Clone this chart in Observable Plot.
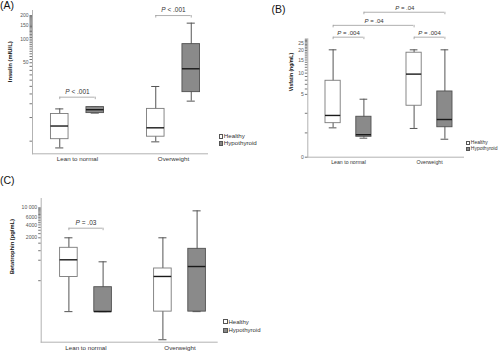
<!DOCTYPE html>
<html><head><meta charset="utf-8">
<script src="https://cdn.jsdelivr.net/npm/d3@7"></script>
<script src="https://cdn.jsdelivr.net/npm/@observablehq/plot@0.6"></script>
<style>
body{margin:0;background:#fff;font-family:"Liberation Sans",Arial,sans-serif;}
#page{position:relative;width:500px;height:353px;overflow:hidden;background:#fff;}
.panel{position:absolute;}
.tag{position:absolute;font-size:10.5px;line-height:10.5px;color:#111;}
.sw{position:absolute;box-sizing:border-box;border:0.8px solid #555;}
.lt{position:absolute;white-space:nowrap;color:#333;}
</style>
</head><body><div id="page"></div>
<script>
// ---------- categories ----------
const groups = ["Lean to normal", "Overweight"];
const seriesNames = ["Healthy", "Hypothyroid"];
const boxGroup  = ["Lean to normal", "Lean to normal", "Overweight", "Overweight"];
const boxSeries = ["Healthy", "Hypothyroid", "Healthy", "Hypothyroid"];

// ---------- (A) Insulin (mIU/L): box statistics ----------
const insulinMin = [4.1, 11.4, 4.9, 16.2];
const insulinQ1  = [5.3, 11.4, 5.7, 21.1];
const insulinMed = [7.8, 12.6, 7.4, 41.9];
const insulinQ3  = [11.1, 13.6, 12.9, 86.4];
const insulinMax = [12.9, 13.6, 24.9, 160];
const insulinTickValues = [50, 100, 150, 200];
const insulinTickText   = ["50", "100", "150", "200"];

// ---------- (B) Visfatin (ng/mL) ----------
const visfatinMin = [1.31, 0.72, 1.27, 0.67];
const visfatinQ1  = [1.64, 0.79, 3.34, 1.35];
const visfatinMed = [2.29, 0.9, 9.7, 1.93];
const visfatinQ3  = [7.85, 2.17, 18.7, 5.52];
const visfatinMax = [20.4, 4.23, 20.4, 20.4];
const visfatinTickValues = [0, 5, 10, 15, 20, 25];
const visfatinTickText   = ["0", "5", "10", "15", "20", "25"];

// ---------- (C) Betatrophin (pg/mL) ----------
const betatrophinMin = [38, 38, 8.4, 38];
const betatrophinQ1  = [244, 38, 38, 38];
const betatrophinMed = [614, 38, 251, 428];
const betatrophinQ3  = [1169, 141, 385, 1107];
const betatrophinMax = [2000, 551, 2000, 8500];
const betatrophinTickValues = [2000, 4000, 6000, 10000];
const betatrophinTickText   = ["2000", "4000", "6000", "10 000"];

// ---------- significance annotations ----------
const insulinTests = [
  {g1: "Lean to normal", s1: "Healthy", g2: "Lean to normal", s2: "Hypothyroid", y: 18.2, label: "P < .001"},
  {g1: "Overweight", s1: "Healthy", g2: "Overweight", s2: "Hypothyroid", y: 200, label: "P < .001"}
];
const visfatinTests = [
  {g1: "Lean to normal", s1: "Healthy", g2: "Lean to normal", s2: "Hypothyroid", y: 29.7, label: "P = .004"},
  {g1: "Overweight", s1: "Healthy", g2: "Overweight", s2: "Hypothyroid", y: 29.7, label: "P = .004"},
  {g1: "Lean to normal", s1: "Healthy", g2: "Overweight", s2: "Healthy", y: 42, label: "P = .04"},
  {g1: "Lean to normal", s1: "Hypothyroid", g2: "Overweight", s2: "Hypothyroid", y: 61.5, label: "P = .04"}
];
const betatrophinTests = [
  {g1: "Lean to normal", s1: "Healthy", g2: "Lean to normal", s2: "Hypothyroid", y: 3350, label: "P = .03"}
];

// ---------- styles ----------
const FONT = '"Liberation Sans", Arial, sans-serif';
const fillOf = {Healthy: "#ffffff", Hypothyroid: "#8a8a8a"};
const strokeOf = {Healthy: "#7a7a7a", Hypothyroid: "#505050"};
const whiskerColor = "#555555";
const axisColor = "#b3b3b3";
const bracketColor = "#9a9a9a";
const TICK = 2.5, TICKPAD = 1.5;

function rowsOf(min, q1, med, q3, max) {
  return boxGroup.map((g, i) => ({group: g, series: boxSeries[i], min: min[i], q1: q1[i], med: med[i], q3: q3[i], max: max[i]}));
}

function bandLayout(L) {
  const r0 = L.marginLeft, r1 = L.width - L.marginRight;
  const s = L.c2 - L.c1;
  const pi = 2 * (L.c1 - r1 + 1.5 * s) / s;
  const po = Math.max(0, ((r1 - r0) / s - 2 + pi) / 2);
  return {paddingInner: pi, paddingOuter: po, step: s, bw: s * (1 - pi)};
}

function panel(L, rows, tests, yScale, minorTicks, tickValues, tickText, title) {
  const B = bandLayout(L);
  const side = s => s === "Healthy" ? -L.dodge : L.dodge;
  const boxInset = (B.bw - L.boxW) / 2, capInset = (B.bw - L.capW) / 2;
  const marks = [
    Plot.frame({anchor: "left", stroke: axisColor}),
    Plot.frame({anchor: "bottom", stroke: axisColor}),
    Plot.axisY({ticks: minorTicks, tickFormat: () => "", tickSize: TICK, color: "#777", label: null}),
    Plot.text(tickValues, {y: d => d, text: (d, i) => tickText[i], frameAnchor: "left", textAnchor: "end",
      dx: -(TICK + TICKPAD), fontSize: L.tickFont, fill: "#555"}),
    Plot.axisX({tickSize: 0, tickPadding: L.xPad, fontSize: L.catFont, color: "#333", label: null}),
    Plot.text([title], {frameAnchor: "left", text: d => d, rotate: -90, dx: L.titleDx, dy: L.titleDy,
      fontSize: L.titleFont, fontWeight: "bold", fill: "#111"})
  ];
  for (const s of seriesNames) {
    const r = rows.filter(d => d.series === s);
    const dx = side(s);
    marks.push(
      Plot.ruleX(r, {x: "group", y1: "min", y2: "max", dx, stroke: whiskerColor, strokeWidth: 1}),
      Plot.tickY(r, {x: "group", y: "max", dx, insetLeft: capInset, insetRight: capInset, stroke: whiskerColor, strokeWidth: 1}),
      Plot.tickY(r, {x: "group", y: "min", dx, insetLeft: capInset, insetRight: capInset, stroke: whiskerColor, strokeWidth: 1}),
      Plot.barY(r, {x: "group", y1: "q1", y2: "q3", dx, insetLeft: boxInset, insetRight: boxInset,
        fill: fillOf[s], stroke: strokeOf[s], strokeWidth: 0.9}),
      Plot.tickY(r, {x: "group", y: "med", dx, insetLeft: boxInset, insetRight: boxInset, stroke: "#1a1a1a", strokeWidth: 1.4})
    );
  }
  for (const t of tests) {
    const d1 = side(t.s1), d2 = side(t.s2);
    const half = B.bw / 2;
    const span = groups.indexOf(t.g2) - groups.indexOf(t.g1);
    marks.push(
      Plot.ruleY([t], {x1: "g1", x2: "g2", y: "y", insetLeft: half + d1, insetRight: half - d2, stroke: bracketColor, strokeWidth: 0.8}),
      Plot.ruleX([t], {x: "g1", y1: "y", y2: "y", dx: d1, insetBottom: -L.foot, stroke: bracketColor, strokeWidth: 0.8}),
      Plot.ruleX([t], {x: "g2", y1: "y", y2: "y", dx: d2, insetBottom: -L.foot, stroke: bracketColor, strokeWidth: 0.8}),
      Plot.text([t], {x: "g1", y: "y", text: "label", dx: span * B.step / 2 + (d1 + d2) / 2, dy: -L.textGap,
        lineAnchor: "bottom", fontSize: L.pFont, fill: "#333"})
    );
  }
  const svg = Plot.plot({
    width: L.width, height: L.height,
    marginLeft: L.marginLeft, marginRight: L.marginRight, marginTop: L.marginTop, marginBottom: L.marginBottom,
    x: {domain: groups, paddingInner: B.paddingInner, paddingOuter: B.paddingOuter, align: 1},
    y: yScale,
    style: {background: "transparent", overflow: "visible", fontFamily: FONT},
    marks
  });
  // italic "P" in the p-value labels
  svg.querySelectorAll("text").forEach(el => {
    const s = el.textContent;
    if (/^P [<=] /.test(s)) {
      el.textContent = "";
      const ts = document.createElementNS("http://www.w3.org/2000/svg", "tspan");
      ts.setAttribute("font-style", "italic");
      ts.textContent = "P";
      el.appendChild(ts);
      el.appendChild(document.createTextNode(s.slice(1)));
    }
  });
  return svg;
}

const page = document.getElementById("page");
function place(svg, left, top) {
  const d = document.createElement("div");
  d.className = "panel"; d.style.left = left + "px"; d.style.top = top + "px";
  d.appendChild(svg); page.appendChild(d);
}

// (A)
place(panel(
  {width: 250, height: 175, marginLeft: 32, marginRight: 43, marginTop: 10, marginBottom: 21.7,
   c1: 76.8, c2: 172.8, dodge: 17.75, boxW: 18, capW: 8.5, tickFont: 5, catFont: 6.2, xPad: 3,
   titleFont: 5.9, titleDx: -22.5, titleDy: 0, pFont: 6.5, textGap: 3.5, foot: 2.5},
  rowsOf(insulinMin, insulinQ1, insulinMed, insulinQ3, insulinMax), insulinTests,
  {type: "log", domain: [3.45, 232]},
  d3.range(5, 201, 5), insulinTickValues, insulinTickText,
  "Insulin (mIU/L)"), 0, 0);

// (B)
place(panel(
  {width: 250, height: 175, marginLeft: 57.3, marginRight: 37, marginTop: 38.3, marginBottom: 18.3,
   c1: 96.7, c2: 178.6, dodge: 15.4, boxW: 16, capW: 8.5, tickFont: 5, catFont: 5.2, xPad: 3,
   titleFont: 5.1, titleDx: -16.8, titleDy: -6.7, pFont: 6, textGap: 2, foot: 2.5},
  rowsOf(visfatinMin, visfatinQ1, visfatinMed, visfatinQ3, visfatinMax), visfatinTests,
  {type: "symlog", constant: 1, domain: [0, 28.3]},
  [0, 1, 2.5, ...d3.range(5, 29, 1)], visfatinTickValues, visfatinTickText,
  "Visfatin (ng/mL)"), 250, 0);

// (C)
place(panel(
  {width: 250, height: 178, marginLeft: 40.7, marginRight: 33.3, marginTop: 23, marginBottom: 11.3,
   c1: 84.6, c2: 179, dodge: 17.1, boxW: 18, capW: 8.5, tickFont: 5.1, catFont: 6.2, xPad: 3.3,
   titleFont: 5.8, titleDx: -28.7, titleDy: 4, pFont: 6.5, textGap: 2.7, foot: 2.5},
  rowsOf(betatrophinMin, betatrophinQ1, betatrophinMed, betatrophinQ3, betatrophinMax), betatrophinTests,
  {type: "log", domain: [7.36, 16500]},
  [200, 600, 1000, 1500, ...d3.range(2000, 10001, 500)], betatrophinTickValues, betatrophinTickText,
  "Betatrophin (pg/mL)"), 0, 175);

// legends
const legendSpecs = [
  {left: 218.5, top: 136.5, gap: 7, sw: 4.5, font: 6.2},
  {left: 466, top: 142.6, gap: 6.3, sw: 4, font: 5},
  {left: 222.7, top: 321.8, gap: 8.2, sw: 5, font: 6}
];
for (const L of legendSpecs) {
  seriesNames.forEach((name, i) => {
    const cy = L.top + i * L.gap;
    const sw = document.createElement("div");
    sw.className = "sw";
    Object.assign(sw.style, {left: L.left + "px", top: (cy - L.sw / 2) + "px", width: L.sw + "px", height: L.sw + "px", background: fillOf[name]});
    page.appendChild(sw);
    const tx = document.createElement("div");
    tx.className = "lt";
    tx.textContent = name;
    Object.assign(tx.style, {left: (L.left + L.sw + 0.8) + "px", top: (cy - L.font / 2) + "px", fontSize: L.font + "px", lineHeight: L.font + "px"});
    page.appendChild(tx);
  });
}

// panel tags
[["(A)", 0, 0], ["(B)", 271.5, 3.5], ["(C)", 0, 175]].forEach(([t, x, y]) => {
  const d = document.createElement("div");
  d.className = "tag"; d.textContent = t;
  d.style.left = x + "px"; d.style.top = y + "px";
  page.appendChild(d);
});
</script>
</body></html>
